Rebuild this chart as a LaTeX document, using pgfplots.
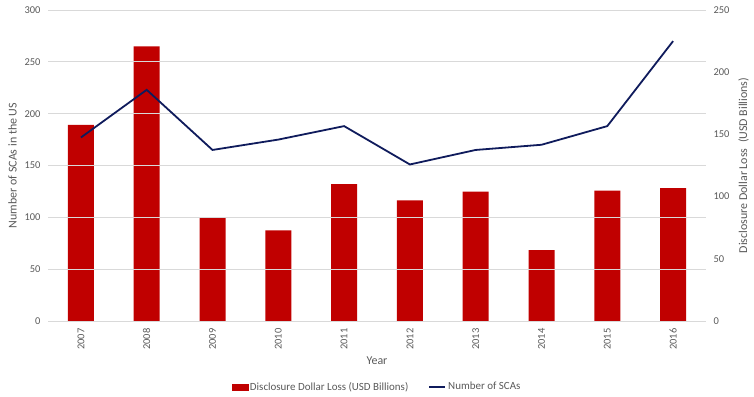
\documentclass[border=0pt]{standalone}
\usepackage{fontspec}
\setmainfont{Carlito}
\usepackage{pgfplots}
\pgfplotsset{compat=1.18}
\definecolor{barred}{HTML}{C00000}
\definecolor{navy}{HTML}{0F1B5C}
\definecolor{txt}{HTML}{595959}
\definecolor{gridc}{HTML}{D9D9D9}
\begin{document}
\begin{tikzpicture}
\useasboundingbox (0,0) rectangle (754bp,397bp);
\pgfplotsset{common/.style={
  at={(48bp,76bp)}, anchor=south west, scale only axis,
  width=658bp, height=311bp, xmin=-0.5, xmax=9.5,
  major tick length=0pt,
  /pgf/number format/assume math mode=true,
  tick label style={font=\fontsize{10.5}{12}\selectfont, text=txt},
  label style={font=\fontsize{12}{14}\selectfont, text=txt},
}}
\begin{axis}[common,
  ymin=0, ymax=250, ytick={0,50,...,250},
  axis y line*=right, axis x line=none,
  y axis line style={draw=none},
  yticklabel style={xshift=4bp},
  ylabel={Disclosure Dollar Loss\ \ (USD Billions)},
  ylabel shift=2bp,
  ybar, bar width=26bp]
\addplot[fill=barred, draw=none] coordinates {
(0,157.7) (1,220.8) (2,83.5) (3,72.8) (4,110.0)
(5,96.9) (6,103.9) (7,57.0) (8,104.9) (9,106.8)};
\end{axis}
\begin{axis}[common,
  ymin=0, ymax=300, ytick={0,50,...,300},
  axis y line*=left, axis x line*=bottom,
  axis line style={draw=none},
  ymajorgrids, grid style={gridc, line width=0.9bp},
  yticklabel style={xshift=-4bp},
  xtick={0,...,9},
  xticklabels={2007,2008,2009,2010,2011,2012,2013,2014,2015,2016},
  xticklabel style={rotate=90, anchor=east, xshift=-4bp},
  xlabel={Year}, xlabel style={yshift=0bp},
  ylabel={Number of SCAs in the US}, ylabel style={yshift=1bp},
  legend style={at={(axis description cs:0.5,-0.212)}, anchor=center,
    draw=none, fill=none, legend columns=2,
    font=\fontsize{11}{13}\selectfont, text=txt,
    /tikz/every even column/.append style={column sep=18bp}},
  legend cell align=left]
\addlegendimage{legend image code/.code={\fill[barred] (0bp,-3bp) rectangle (16bp,3bp);}}
\addlegendentry{Disclosure Dollar Loss (USD Billions)}
\addplot[navy, line width=1.8bp, mark=none,
  legend image code/.code={\draw[navy, line width=1.8bp] (0bp,0bp) -- (16bp,0bp);}]
  coordinates {
(0,177) (1,223) (2,165) (3,175) (4,188)
(5,151) (6,165) (7,170) (8,188) (9,270)};
\addlegendentry{Number of SCAs}
\end{axis}
\end{tikzpicture}
\end{document}
